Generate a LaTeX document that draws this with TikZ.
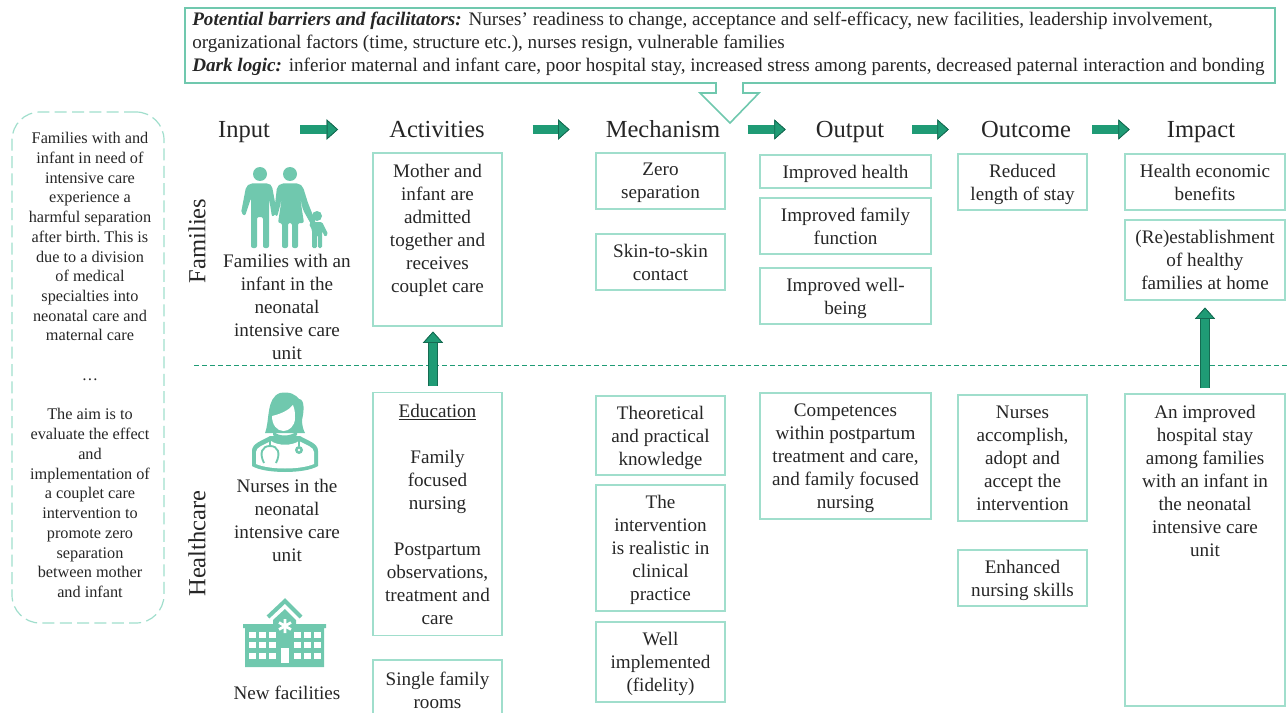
\documentclass[tikz,border=0pt]{standalone}
\usepackage{fontspec}
\setmainfont{Liberation Serif}
\usepackage{tikz}
\usetikzlibrary{arrows.meta}
\definecolor{textGrey}{HTML}{262626}
\definecolor{flowGreen}{HTML}{1F9B75}
\definecolor{flowDark}{HTML}{156B52}
\definecolor{iconGreen}{HTML}{70C8AE}
\definecolor{boxGreen}{HTML}{A0DECC}
\AtBeginDocument{\frenchspacing}
\begin{document}
\begin{tikzpicture}[x=0.75pt, y=-0.75pt]
        \tikzset{
           heading/.style={
                        rectangle,
                        inner sep=0pt,
                        text height=16pt,
                        text depth=4pt,
                        text=textGrey,
                        font=\fontsize{18.4}{22}\selectfont
                       },
           sideLabel/.style={
                        rectangle,
                        inner sep=0pt,
                        rotate=90,
                        text=textGrey,
                        font=\fontsize{18.4}{22}\selectfont
                       },
           inputLabel/.style={
                        rectangle,
                        inner sep=0pt,
                        align=center,
                        text=textGrey,
                        font=\fontsize{14.35}{17.25}\selectfont
                       },
           stepBox/.style={
                        rectangle,
                        draw=boxGreen,
                        line width=0.8pt,
                        fill=none,
                        inner sep=0pt,
                        align=center,
                        text=textGrey,
                        text depth=0pt,
                        font=\fontsize{14.35}{17.25}\selectfont
                       },
           narrowBox/.style={stepBox, minimum width=96.75pt},
           outputBox/.style={stepBox, minimum width=128.25pt},
           impactBox/.style={stepBox, minimum width=120pt},
           contextBox/.style={
                        rectangle,
                        rounded corners=21pt,
                        draw=boxGreen,
                        line width=0.9pt,
                        dash pattern=on 9pt off 4pt,
                        inner sep=0pt,
                        minimum width=114pt,
                        minimum height=383.25pt
                       },
           contextText/.style={
                        rectangle,
                        inner sep=0pt,
                        align=center,
                        text=textGrey,
                        font=\fontsize{12.2}{14.8}\selectfont
                       },
           barrierText/.style={
                        rectangle,
                        inner sep=0pt,
                        align=left,
                        text=textGrey,
                        font=\fontsize{14.35}{17.25}\selectfont
                       },
           calloutLine/.style={
                        draw=iconGreen,
                        line width=1.2pt,
                        fill=white
                       },
           flowArrow/.style={
                        -{Triangle[length=8.5pt,width=15pt,line width=0.6pt,color=flowDark,fill=flowGreen]},
                        preaction={draw=flowDark, line width=7.4pt},
                        draw=flowGreen,
                        line width=6.2pt
                       },
           iconFill/.style={fill=iconGreen}
                 }
    %--------------------
        \clip (0,0) rectangle (1288,713);

        \draw[calloutLine] (185,8) -- (1275,8) -- (1275,83) -- (743,83) -- (743,93) -- (759,93)
              -- (730,123) -- (700,93) -- (716,93) -- (716,83) -- (185,83) -- cycle;
        \node[barrierText] (barriers) [anchor=west] at (192,44)
              {\textbf{\textit{Potential barriers and facilitators:}} \hspace{1.5pt}Nurses’ readiness to change, acceptance and self-efficacy, new facilities, leadership involvement,\\
               organizational factors (time, structure etc.), nurses resign, vulnerable families\\
               \textbf{\textit{Dark logic:}} \hspace{1.5pt}inferior maternal and infant care, poor hospital stay, increased stress among parents, decreased paternal interaction and bonding};

        \node[contextBox]  (context)     at (88,367.5) {};
        \node[contextText] (contextAim)  at (90,365)
              {Families with and\\infant in need of\\intensive care\\experience a\\harmful separation\\after birth. This is\\due to a division\\of medical\\specialties into\\neonatal care and\\maternal care\\~\\…\\~\\The aim is to\\evaluate the effect\\and\\implementation of\\a couplet care\\intervention to\\promote zero\\separation\\between mother\\and infant};

        \node[heading] (input)      at (244,129.5)  {Input};
        \node[heading] (activities) at (437,129.5)  {Activities};
        \node[heading] (mechanism)  at (663,129.5)  {Mechanism};
        \node[heading] (output)     at (850,129.5)  {Output};
        \node[heading] (outcome)    at (1026,129.5) {Outcome};
        \node[heading] (impact)     at (1201,129.5) {Impact};

        \node[sideLabel] (families)   at (197,241) {Families};
        \node[sideLabel] (healthcare) at (197,543.5) {Healthcare};

        \coordinate (dividerA) at (194,365.5);
        \coordinate (dividerB) at (1288,365.5);
        \draw[flowGreen, line width=0.5pt, dash pattern=on 3.5pt off 2.5pt] (dividerA) -- (dividerB);
    %--------------------
        % family icon
        \fill[iconFill] (260,174) circle (7) (290,174) circle (7) (317,216) circle (5);
        \fill[iconFill, rounded corners=1.5pt] (250,183.5) -- (269,183.5) -- (272,186) -- (277,213) -- (272,217) -- (269,198)
              -- (269,248) -- (263,248) -- (263,217) -- (257,217) -- (257,248) -- (251,248) -- (251,198)
              -- (245,216) -- (241,213) -- (246,187) -- cycle;
        \fill[iconFill, rounded corners=1.5pt] (281,183.5) -- (299,183.5) -- (303,187) -- (308,203) -- (316,223) -- (312,226)
              -- (303,210) -- (300,197) -- (304,223) -- (298,223) -- (298,248) -- (292,248) -- (292,223)
              -- (288,223) -- (288,248) -- (282,248) -- (282,223) -- (278,223) -- (282,197) -- (279,210)
              -- (277,217) -- (274,213) -- (277,187) -- cycle;
        \fill[iconFill, rounded corners=1pt] (312,222) -- (322,222) -- (328,234) -- (325,237) -- (322,231) -- (322,248)
              -- (318,248) -- (318,235) -- (317,235) -- (317,248) -- (312,248) -- (312,230) -- (309,224) -- cycle;

        % nurse icon
        \fill[iconFill] (252,466) -- (252,451) .. controls (252,443) and (262,441) .. (270,436)
              -- (300,436) .. controls (308,441) and (318,443) .. (318,451) -- (318,466)
              .. controls (305,474) and (265,474) .. (252,466) -- cycle;
        \fill[white] (256,464) -- (256,452) .. controls (256,447) and (264,445) .. (271,441)
              .. controls (278,446) and (292,446) .. (299,441) .. controls (306,445) and (314,447) .. (314,452)
              -- (314,464) .. controls (300,470) and (270,470) .. (256,464) -- cycle;
        \fill[iconFill] (265,433) .. controls (270,420) and (266,398) .. (280,393) .. controls (290,391) and (296,395) .. (299,399)
              .. controls (305,399) and (304,412) .. (302,420) .. controls (302,427) and (304,431) .. (305,433) -- cycle;
        \fill[white] (272,416) .. controls (281,414) and (289,410) .. (293,405) .. controls (295,410) and (295,414) .. (295,418)
              .. controls (295,426) and (289,431) .. (283.5,431) .. controls (277,431) and (272,425) .. (272,416) -- cycle;
        \fill[iconFill] (273,431) .. controls (278,437) and (291,437) .. (297,431) -- (297,435) .. controls (291,441) and (278,441) .. (273,435) -- cycle;
        \draw[iconGreen, line width=1.4pt] (270,439) -- (270,446) (264,463) .. controls (259,453) and (262,446) .. (270,446)
              .. controls (278,446) and (281,453) .. (276,463) (299,439) -- (299,446);
        \fill[iconFill] (299,450) circle (4);
        \fill[white] (299,450) circle (1.3);

        % hospital icon
        \draw[iconGreen, line width=3pt] (268,617) -- (285,601) -- (301,617);
        \fill[iconFill] (285,609) -- (296,620) -- (296,624) -- (326,624) -- (326,628) -- (324,628) -- (324,667)
              -- (245,667) -- (245,628) -- (243,628) -- (243,624) -- (273,624) -- (273,620) -- cycle;
        \draw[white, line width=2pt] (285,619) -- (285,633) (279,622.5) -- (291,629.5) (279,629.5) -- (291,622.5);
        \draw[white, line width=4.5pt, dash pattern=on 5.1pt off 2.4pt] (249,635) -- (276,635) (249,645) -- (276,645) (249,655.5) -- (276,655.5)
              (294,635) -- (321,635) (294,645) -- (321,645) (294,655.5) -- (321,655.5);
        \fill[white] (281,648) rectangle (289,663);
    %--------------------
        \node[inputLabel] (familiesInput) at (287,307)   {Families with an\\infant in the\\neonatal\\intensive care\\unit};
        \node[inputLabel] (nursesInput)   at (287,520.5) {Nurses in the\\neonatal\\intensive care\\unit};
        \node[inputLabel] (newFacilities) at (287,693)   {New facilities};

        \node[narrowBox] (coupleCare)  [minimum height=129.75pt] at (437.5,239.5) {Mother and\\infant are\\admitted\\together and\\receives\\couplet care\\~};
        \node[narrowBox] (education)   [minimum height=182pt]    at (437.5,514)   {\underline{Education}\\~\\Family\\focused\\nursing\\~\\Postpartum\\observations,\\treatment and\\care};
        \node[narrowBox] (singleRooms) [minimum height=45pt]     at (437.5,690)   {Single family\\rooms};

        \node[narrowBox] (zeroSep)     [minimum height=42pt]     at (660.5,181)   {Zero\\separation};
        \node[narrowBox] (skinContact) [minimum height=42pt]     at (660.5,262)   {Skin-to-skin\\contact};
        \node[narrowBox] (knowledge)   [minimum height=59.25pt]  at (660.5,435.5) {Theoretical\\and practical\\knowledge};
        \node[narrowBox] (realistic)   [minimum height=94.5pt]   at (660.5,548)   {The\\intervention\\is realistic in\\clinical\\practice};
        \node[narrowBox] (fidelity)    [minimum height=60pt]     at (660.5,662)   {Well\\implemented\\(fidelity)};

        \node[outputBox] (health)      [minimum height=24.75pt]  at (845.5,171.5) {Improved health};
        \node[outputBox] (famFunction) [minimum height=42pt]     at (845.5,226)   {Improved family\\function};
        \node[outputBox] (wellBeing)   [minimum height=42pt]     at (845.5,296)   {Improved well-\\being};
        \node[outputBox] (competences) [minimum height=94.5pt]   at (845.5,456)   {Competences\\within postpartum\\treatment and care,\\and family focused\\nursing};

        \node[narrowBox] (stayLength)  [minimum height=42pt]     at (1022.5,182)  {Reduced\\length of stay};
        \node[narrowBox] (adopt)       [minimum height=94.5pt]   at (1022.5,458)  {Nurses\\accomplish,\\adopt and\\accept the\\intervention};
        \node[narrowBox] (skills)      [minimum height=42pt]     at (1022.5,578)  {Enhanced\\nursing skills};

        \node[impactBox] (economic)    [minimum height=42pt]     at (1205,182)    {Health economic\\benefits};
        \node[impactBox] (healthyHome) [minimum height=60pt]     at (1205,260)    {(Re)establishment\\of healthy\\families at home};
        \node[impactBox] (hospitalStay)[minimum height=234pt]    at (1205,550)    {An improved\\hospital stay\\among families\\with an infant in\\the neonatal\\intensive care\\unit\\~\\~\\~\\~\\~\\~};
    %--------------------
        \path[flowArrow, shorten <=22.5pt, shorten >=38.25pt] (input) -- (activities);
        \path[flowArrow, shorten <=36pt, shorten >=27pt]      (activities) -- (mechanism);
        \path[flowArrow, shorten <=20.25pt, shorten >=22.5pt] (mechanism) -- (output);
        \path[flowArrow, shorten <=21pt, shorten >=24pt]      (output) -- (outcome);
        \path[flowArrow, shorten <=15.75pt, shorten >=27.75pt] (outcome) -- (impact);

        \path[flowArrow, shorten <=4.5pt, shorten >=3.75pt] ([xshift=-3.4pt]education.north) -- ([xshift=-3.4pt]coupleCare.south);
        \path[flowArrow, shorten <=3.75pt, shorten >=5.25pt] (hospitalStay.north) -- (healthyHome.south);
\end{tikzpicture}
\end{document}
